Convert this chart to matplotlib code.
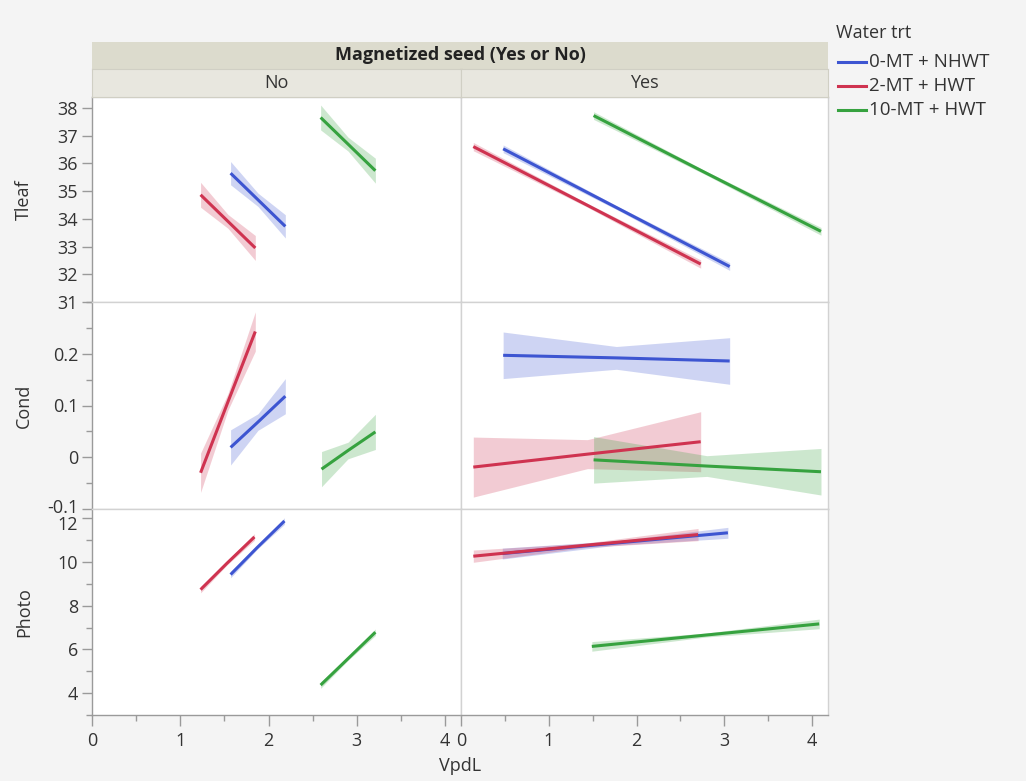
import matplotlib.pyplot as plt
from matplotlib.lines import Line2D
from matplotlib.transforms import ScaledTranslation
import numpy as np

plt.rcParams['font.family'] = ['Open Sans', 'DejaVu Sans']
plt.rcParams['font.size'] = 13

W, H = 1026, 781

rows = ['Tleaf', 'Cond', 'Photo']
seeds = ['No', 'Yes']
groups = ['0-MT + NHWT', '2-MT + HWT', '10-MT + HWT']
colors = ['#3d55d1', '#cf3350', '#36a23f']

# regression lines per panel: x positions (start, middle, end), fitted value and CI half width
# order inside each list: 0-MT + NHWT, 2-MT + HWT, 10-MT + HWT
tleaf_no_x = [[1.57, 1.88, 2.19], [1.23, 1.54, 1.85], [2.59, 2.90, 3.21]]
tleaf_no_fit = [[35.65, 34.69, 33.73], [34.87, 33.91, 32.95], [37.66, 36.70, 35.74]]
tleaf_no_half = [[0.42, 0.24, 0.42], [0.45, 0.25, 0.45], [0.45, 0.25, 0.45]]

tleaf_yes_x = [[0.48, 1.77, 3.06], [0.14, 1.44, 2.73], [1.51, 2.80, 4.10]]
tleaf_yes_fit = [[36.53, 34.41, 32.28], [36.61, 34.49, 32.37], [37.73, 35.64, 33.55]]
tleaf_yes_half = [[0.14, 0.07, 0.14], [0.15, 0.07, 0.15], [0.14, 0.07, 0.14]]

cond_no_x = [[1.57, 1.88, 2.19], [1.23, 1.54, 1.85], [2.60, 2.90, 3.21]]
cond_no_fit = [[0.019, 0.068, 0.118], [-0.030, 0.107, 0.243], [-0.023, 0.013, 0.049]]
cond_no_half = [[0.034, 0.016, 0.034], [0.038, 0.016, 0.038], [0.034, 0.016, 0.034]]

cond_yes_x = [[0.48, 1.77, 3.06], [0.14, 1.44, 2.73], [1.51, 2.80, 4.10]]
cond_yes_fit = [[0.197, 0.192, 0.186], [-0.019, 0.006, 0.030], [-0.005, -0.017, -0.028]]
cond_yes_half = [[0.045, 0.022, 0.045], [0.058, 0.028, 0.058], [0.045, 0.02, 0.045]]

photo_no_x = [[1.57, 1.87, 2.18], [1.23, 1.53, 1.84], [2.59, 2.90, 3.21]]
photo_no_fit = [[9.43, 10.66, 11.88], [8.74, 9.95, 11.15], [4.37, 5.58, 6.79]]
photo_no_half = [[0.15, 0.08, 0.15], [0.15, 0.08, 0.15], [0.15, 0.08, 0.15]]

photo_yes_x = [[0.47, 1.76, 3.04], [0.14, 1.42, 2.70], [1.49, 2.79, 4.08]]
photo_yes_fit = [[10.39, 10.87, 11.34], [10.27, 10.77, 11.26], [6.14, 6.66, 7.17]]
photo_yes_half = [[0.25, 0.1, 0.25], [0.28, 0.1, 0.28], [0.22, 0.09, 0.22]]

panels = {
    ('Tleaf', 'No'): (tleaf_no_x, tleaf_no_fit, tleaf_no_half),
    ('Tleaf', 'Yes'): (tleaf_yes_x, tleaf_yes_fit, tleaf_yes_half),
    ('Cond', 'No'): (cond_no_x, cond_no_fit, cond_no_half),
    ('Cond', 'Yes'): (cond_yes_x, cond_yes_fit, cond_yes_half),
    ('Photo', 'No'): (photo_no_x, photo_no_fit, photo_no_half),
    ('Photo', 'Yes'): (photo_yes_x, photo_yes_fit, photo_yes_half),
}

ylims = {'Tleaf': (31, 38.4), 'Cond': (-0.1, 0.3), 'Photo': (3, 12.43)}
yticks = {'Tleaf': [31, 32, 33, 34, 35, 36, 37, 38],
          'Cond': [-0.1, 0, 0.1, 0.2],
          'Photo': [4, 6, 8, 10, 12]}
ytick_labels = {'Tleaf': ['31', '32', '33', '34', '35', '36', '37', '38'],
                'Cond': ['-0.1', '0', '0.1', '0.2'],
                'Photo': ['4', '6', '8', '10', '12']}
yminor = {'Tleaf': [],
          'Cond': [-0.05, 0.05, 0.15, 0.25, 0.3],
          'Photo': [3, 5, 7, 9, 11]}
xticks = [0, 1, 2, 3, 4]
xminor = [0.5, 1.5, 2.5, 3.5]

fig = plt.figure(figsize=(W / 100, H / 100), dpi=100, facecolor='#f4f4f4')

left, right = 92 / W, 828 / W
mid = 461 / W
row_edges = [97, 302, 509, 715]

axes = {}
for i, r in enumerate(rows):
    top = 1 - row_edges[i] / H
    bot = 1 - row_edges[i + 1] / H
    for j, s in enumerate(seeds):
        x0 = left if j == 0 else mid
        x1 = mid if j == 0 else right
        ax = fig.add_axes([x0, bot, x1 - x0, top - bot])
        axes[(r, s)] = ax
        ax.set_facecolor('white')
        ax.set_xlim(0, 4.18)
        ax.set_ylim(*ylims[r])
        for sp in ax.spines.values():
            sp.set_color('#d2d2d2')
            sp.set_linewidth(1)

        xs, fits, halves = panels[(r, s)]
        for k in range(len(groups)):
            x = np.array(xs[k])
            f = np.array(fits[k])
            h = np.array(halves[k])
            ax.fill_between(x, f - h, f + h, color=colors[k], alpha=0.25, lw=0)
            ax.plot(x, f, color=colors[k], lw=2.2, solid_capstyle='butt')

        # y axis only on the left column
        if j == 0:
            ax.spines['left'].set_color('#9a9a9a')
            ax.set_yticks(yticks[r])
            ax.set_yticklabels(ytick_labels[r])
            ax.set_yticks(yminor[r], minor=True)
            ax.tick_params(axis='y', which='major', length=7, width=1, color='#9a9a9a',
                           labelsize=13, labelcolor='#333333', pad=3)
            ax.tick_params(axis='y', which='minor', length=4, width=1, color='#9a9a9a')
            ax.set_ylabel(r, fontsize=13, color='#333333')
            ax.yaxis.set_label_coords(-0.16, 0.5)
        else:
            ax.set_yticks([])
            ax.set_yticks([], minor=True)

        # x axis only on the bottom row
        if i == len(rows) - 1:
            ax.spines['bottom'].set_color('#9a9a9a')
            ax.set_xticks(xticks)
            ax.set_xticks(xminor, minor=True)
            ax.tick_params(axis='x', which='major', length=8, width=1, color='#9a9a9a',
                           labelsize=13, labelcolor='#333333', pad=4)
            ax.tick_params(axis='x', which='minor', length=4, width=1, color='#9a9a9a')
        else:
            ax.set_xticks([])
            ax.set_xticks([], minor=True)

# -0.1 and 12 sit on the same row boundary; nudge them apart a little
low = axes[('Cond', 'No')].get_yticklabels()[0]
low.set_transform(low.get_transform() + ScaledTranslation(0, 3 / 100, fig.dpi_scale_trans))
high = axes[('Photo', 'No')].get_yticklabels()[-1]
high.set_transform(high.get_transform() + ScaledTranslation(0, -5 / 100, fig.dpi_scale_trans))

fig.text(460 / W, 1 - 766 / H, 'VpdL', ha='center', va='center', fontsize=13, color='#333333')

# facet strips
hdr = fig.add_axes([left, 1 - 69 / H, right - left, 27 / H])
hdr.set_facecolor('#dcdbcd')
hdr.set_xticks([])
hdr.set_yticks([])
for sp in hdr.spines.values():
    sp.set_visible(False)
hdr.text(0.5, 0.5, 'Magnetized seed (Yes or No)', ha='center', va='center',
         fontsize=13, fontweight='bold', color='#222222', transform=hdr.transAxes)

for j, s in enumerate(seeds):
    x0 = left if j == 0 else mid
    x1 = mid if j == 0 else right
    sub = fig.add_axes([x0, 1 - 97 / H, x1 - x0, 28 / H])
    sub.set_facecolor('#e8e7df')
    sub.set_xticks([])
    sub.set_yticks([])
    for sp in sub.spines.values():
        sp.set_color('#d0cfc4')
    sub.text(0.5, 0.5, s, ha='center', va='center', fontsize=13, color='#333333',
             transform=sub.transAxes)

# legend
fig.text(836 / W, 1 - 33 / H, 'Water trt', ha='left', va='center', fontsize=13, color='#333333')
for k, g in enumerate(groups):
    yy = 1 - (62 + 24 * k) / H
    fig.add_artist(Line2D([838 / W, 866 / W], [yy, yy], color=colors[k], lw=2.2,
                          transform=fig.transFigure))
    fig.text(869 / W, yy, g, ha='left', va='center', fontsize=13.5, color='#333333')

fig.savefig('out.png', dpi=100, facecolor=fig.get_facecolor())
